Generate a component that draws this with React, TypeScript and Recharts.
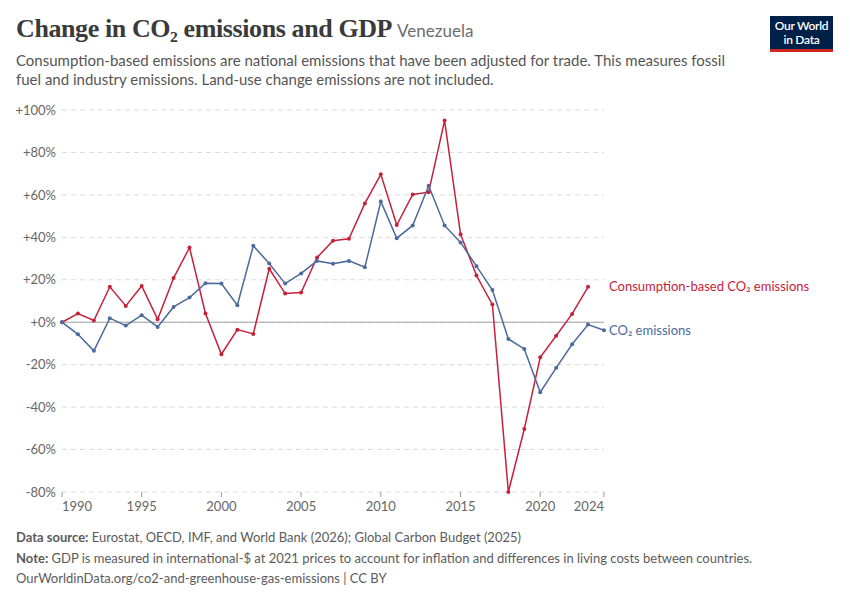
import React from 'react';
import { LineChart, Line, XAxis, YAxis, CartesianGrid, ReferenceLine } from 'recharts';

const years = [
  1990, 1991, 1992, 1993, 1994, 1995, 1996, 1997, 1998, 1999,
  2000, 2001, 2002, 2003, 2004, 2005, 2006, 2007, 2008, 2009,
  2010, 2011, 2012, 2013, 2014, 2015, 2016, 2017, 2018, 2019,
  2020, 2021, 2022, 2023, 2024,
];

// % change since 1990
const consumptionCO2 = [
  0, 4.1, 0.8, 16.7, 7.7, 17.1, 1.4, 20.8, 35.2, 4.1,
  -15.1, -3.5, -5.5, 25.2, 13.5, 14.0, 30.5, 38.4, 39.3, 56.0,
  69.7, 45.8, 60.2, 61.3, 95.0, 41.5, 22.0, 8.3, -80.0, -50.3,
  -16.5, -6.4, 3.9, 16.7, null,
];

const territorialCO2 = [
  0, -5.7, -13.5, 1.9, -1.6, 3.3, -2.2, 7.2, 11.6, 18.4,
  18.2, 8.0, 36.0, 27.7, 18.2, 23.0, 28.9, 27.5, 28.9, 25.9,
  56.9, 39.6, 45.6, 64.3, 45.6, 37.6, 26.4, 15.2, -7.9, -12.6,
  -33.0, -21.5, -10.4, -1.1, -3.8,
];

const xTicks = [1990, 1995, 2000, 2005, 2010, 2015, 2020, 2024];
const yTicks = [-80, -60, -40, -20, 0, 20, 40, 60, 80, 100];

const data = years.map((year, i) => ({
  year,
  consumption: consumptionCO2[i],
  co2: territorialCO2[i],
}));

const RED = '#c4223a';
const BLUE = '#4c6a9c';
const FONT = 'Lato, "Noto Sans", sans-serif';
const LABEL_X = 609;

function XTick(props: any) {
  const { x, y, payload } = props;
  const v = payload.value;
  const anchor = v === xTicks[0] ? 'start' : v === xTicks[xTicks.length - 1] ? 'end' : 'middle';
  return (
    <text x={x} y={y} dy="0.71em" textAnchor={anchor} fill="#666" fontSize={13} fontFamily={FONT}>
      {v}
    </text>
  );
}

function endLabel(text: string, color: string, lastIndex: number) {
  return (props: any) => {
    if (props.index !== lastIndex) return null;
    return (
      <text x={LABEL_X} y={props.y} dy="0.35em" fill={color} fontSize={13} fontFamily={FONT}>
        {text}
      </text>
    );
  };
}

export default function App() {
  return (
    <div style={{ position: 'relative', width: 850, height: 600, background: '#fff', fontFamily: FONT }}>
      <style>{'body{margin:0}'}</style>
      <div style={{ position: 'absolute', left: 16, top: 14, whiteSpace: 'nowrap' }}>
        <span style={{ fontFamily: '"Liberation Serif", serif', fontSize: 26, fontWeight: 700, color: '#3a3a3a', letterSpacing: -0.4 }}>
          Change in CO₂ emissions and GDP
        </span>
        <span style={{ fontSize: 17, color: '#6e6e6e', marginLeft: 5 }}>Venezuela</span>
      </div>
      <div style={{ position: 'absolute', left: 16, top: 51, width: 730, fontSize: 15, lineHeight: '19px', color: '#555' }}>
        Consumption-based emissions are national emissions that have been adjusted for trade. This measures fossil
        fuel and industry emissions. Land-use change emissions are not included.
      </div>
      <div
        style={{
          position: 'absolute', left: 770, top: 16, width: 63, height: 36, background: '#002147',
          color: '#fff', fontSize: 12, lineHeight: '14px', textAlign: 'center', fontWeight: 600,
          boxSizing: 'border-box', paddingTop: 3, borderBottom: '3px solid #ce261e', letterSpacing: -0.3,
        }}
      >
        Our World<br />in Data
      </div>

      <div style={{ position: 'absolute', left: 0, top: 0 }}>
        <LineChart width={850} height={522} data={data} margin={{ top: 110, right: 246, bottom: 0, left: 0 }}>
          <CartesianGrid vertical={false} stroke="#dadada" strokeDasharray="5 4" />
          <XAxis
            dataKey="year"
            type="number"
            domain={[1990, 2024]}
            ticks={xTicks}
            axisLine={false}
            tickLine={{ stroke: '#999' }}
            tickSize={5}
            tickMargin={5}
            height={30}
            tick={<XTick />}
            interval={0}
          />
          <YAxis
            domain={[-80, 100]}
            ticks={yTicks}
            width={62}
            axisLine={false}
            tickLine={false}
            tickSize={0}
            tickMargin={6}
            tickFormatter={(v: number) => (v > 0 ? `+${v}%` : v === 0 ? '+0%' : `${v}%`)}
            tick={{ fill: '#666', fontSize: 13, fontFamily: FONT }}
            interval={0}
          />
          <ReferenceLine y={0} stroke="#a0a0a0" strokeWidth={1} />
          <Line
            dataKey="consumption"
            stroke={RED}
            strokeWidth={1.5}
            dot={{ r: 2, fill: RED, stroke: RED, strokeWidth: 0 }}
            isAnimationActive={false}
            label={endLabel('Consumption-based CO₂ emissions', RED, 33)}
          />
          <Line
            dataKey="co2"
            stroke={BLUE}
            strokeWidth={1.5}
            dot={{ r: 2, fill: BLUE, stroke: BLUE, strokeWidth: 0 }}
            isAnimationActive={false}
            label={endLabel('CO₂ emissions', BLUE, 34)}
          />
        </LineChart>
      </div>

      <div style={{ position: 'absolute', left: 16, top: 527, fontSize: 13, color: '#5b5b5b', lineHeight: '20.5px' }}>
        <div><b>Data source:</b> Eurostat, OECD, IMF, and World Bank (2026); Global Carbon Budget (2025)</div>
        <div><b>Note:</b> GDP is measured in international-$ at 2021 prices to account for inflation and differences in living costs between countries.</div>
        <div>OurWorldinData.org/co2-and-greenhouse-gas-emissions | CC BY</div>
      </div>
    </div>
  );
}
